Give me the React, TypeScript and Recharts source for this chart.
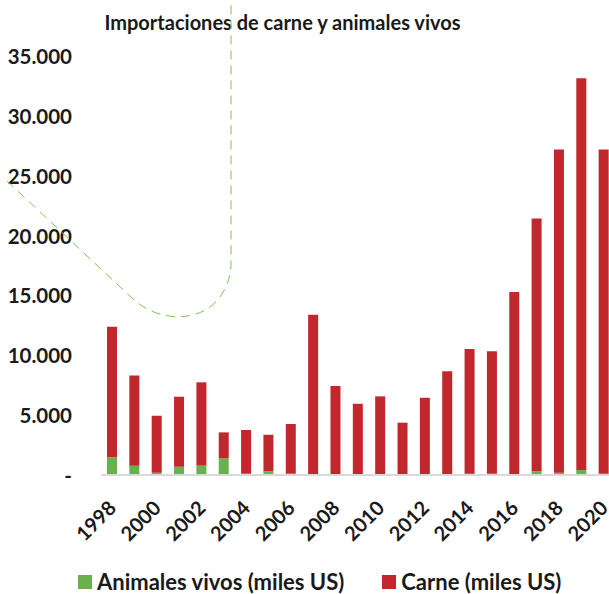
import React from 'react';
import { BarChart, Bar, XAxis, YAxis } from 'recharts';

const years = ['1998','1999','2000','2001','2002','2003','2004','2005','2006','2007','2008','2009','2010','2011','2012','2013','2014','2015','2016','2017','2018','2019','2020'];
const animalesVivos = [1480, 780, 190, 690, 780, 1390, 110, 310, 110, 0, 0, 0, 0, 0, 0, 0, 110, 110, 0, 310, 190, 420, 110];
const carne = [10900, 7540, 4760, 5850, 6960, 2170, 3650, 3050, 4150, 13380, 7430, 5950, 6570, 4370, 6450, 8660, 10410, 10220, 15280, 21120, 27000, 32720, 27080];
const yTicks = [0, 5000, 10000, 15000, 20000, 25000, 30000, 35000];
const seriesNames = ['Animales vivos (miles US)', 'Carne (miles US)'];
const seriesColors = ['#6AB04F', '#C1272D'];
const title = 'Importaciones de carne y animales vivos';

const data = years.map((y, i) => ({ year: y, animales: animalesVivos[i], carne: carne[i] }));

const FONT = 'Lato, "Open Sans", sans-serif';

const fmt = (v: number) => (v === 0 ? '-' : String(v).replace(/\B(?=(\d{3})+(?!\d))/g, '.'));

const YTick = (props: any) => {
  const { x, y, payload } = props;
  return (
    <text x={x} y={y} textAnchor="end" dominantBaseline="central" fontFamily={FONT} fontWeight={700} fontSize={20.5} fill="#1a1a1a">
      {fmt(payload.value)}
    </text>
  );
};

const XTick = (props: any) => {
  const { x, y, payload } = props;
  const tx = x - 6;
  return (
    <text x={tx} y={y} transform={`rotate(-45, ${tx}, ${y})`} textAnchor="end" dominantBaseline="hanging" fontFamily={FONT} fontWeight={700} fontSize={20} fill="#1a1a1a">
      {payload.value}
    </text>
  );
};

export default function App() {
  return (
    <div style={{ position: 'fixed', left: 0, top: 0, width: 609, height: 594, overflow: 'hidden', background: '#fff', fontFamily: FONT }}>
      <div style={{ position: 'absolute', left: 0, top: 10, width: 565, textAlign: 'center', fontSize: 20, fontWeight: 700, color: '#1a1a1a', whiteSpace: 'nowrap' }}>
        {title}
      </div>
      <BarChart width={615} height={594} data={data} margin={{ top: 56, right: 0, left: 0, bottom: 59 }} barSize={10}>
        <YAxis
          width={101}
          domain={[0, 35000]}
          ticks={yTicks}
          axisLine={false}
          tickLine={false}
          tickSize={0}
          tickMargin={29}
          tick={<YTick />}
          interval={0}
        />
        <XAxis
          dataKey="year"
          height={60}
          interval={1}
          axisLine={{ stroke: '#d9d9d9', strokeWidth: 2 }}
          tickLine={false}
          tickSize={0}
          tickMargin={23}
          tick={<XTick />}
        />
        <Bar dataKey="animales" name={seriesNames[0]} stackId="a" fill={seriesColors[0]} isAnimationActive={false} />
        <Bar dataKey="carne" name={seriesNames[1]} stackId="a" fill={seriesColors[1]} isAnimationActive={false} />
      </BarChart>
      <div style={{ position: 'absolute', left: 78, top: 571, height: 22, lineHeight: '22px', display: 'flex', alignItems: 'center', fontSize: 22, fontWeight: 700, color: '#1a1a1a', whiteSpace: 'nowrap' }}>
        {seriesNames.map((n, i) => (
          <div key={n} style={{ display: 'flex', alignItems: 'center', marginRight: i === 0 ? 38 : 0 }}>
            <span style={{ display: 'inline-block', width: 14, height: 14, background: seriesColors[i], marginRight: 5 }} />
            <span>{n}</span>
          </div>
        ))}
      </div>
      <svg width={609} height={594} style={{ position: 'absolute', left: 0, top: 0, pointerEvents: 'none' }}>
        <path
          d="M7,181 L133,299 C158,322 200,324 220,297 C229,284 231,273 231,262 L231,0"
          fill="none"
          stroke="#7CC453"
          strokeWidth={1}
          strokeDasharray="9 6"
        />
      </svg>
    </div>
  );
}
